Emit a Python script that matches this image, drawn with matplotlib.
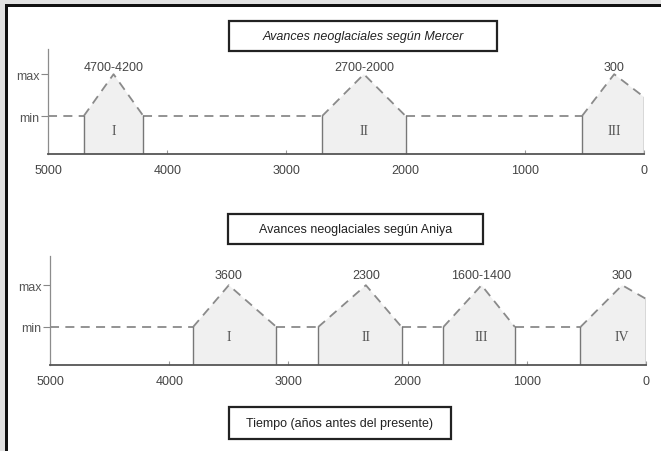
import matplotlib
matplotlib.use("Agg")
import matplotlib.pyplot as plt
from matplotlib import font_manager
from matplotlib.patches import Polygon, Rectangle

# data
years_ticks = [5000, 4000, 3000, 2000, 1000, 0]
level_min = 1.0
level_max = 2.1

mercer_start = [4700, 2700, 520]
mercer_end = [4200, 2000, 0]
mercer_peak = [4450, 2350, 250]
mercer_end_level = [1.0, 1.0, 1.5]
mercer_labels = ["4700-4200", "2700-2000", "300"]
mercer_roman = ["I", "II", "III"]

aniya_start = [3800, 2750, 1700, 550]
aniya_end = [3100, 2050, 1100, 0]
aniya_peak = [3500, 2350, 1380, 200]
aniya_end_level = [1.0, 1.0, 1.0, 1.74]
aniya_labels = ["3600", "2300", "1600-1400", "300"]
aniya_roman = ["I", "II", "III", "IV"]

names = {f.name for f in font_manager.fontManager.ttflist}
NARROW = "Liberation Sans Narrow" if "Liberation Sans Narrow" in names else "Liberation Sans"
SERIF = "Liberation Serif"

plt.rcParams["hatch.color"] = "#b8b8b8"
plt.rcParams["hatch.linewidth"] = 0.9

W, H = 661, 452
fig = plt.figure(figsize=(W / 100, H / 100), dpi=100)
fig.patch.set_facecolor("white")


def fx(px):
    return px / W


def fy(py):
    return 1 - py / H


# frame: grey band + black line on top and left
fig.patches.append(Rectangle((0, fy(5)), 1, 5 / H, transform=fig.transFigure,
                             facecolor="#e2e2e2", edgecolor="none"))
fig.patches.append(Rectangle((0, 0), 5 / W, 1, transform=fig.transFigure,
                             facecolor="#e2e2e2", edgecolor="none"))
fig.patches.append(Rectangle((5 / W, fy(8)), 1, 3 / H, transform=fig.transFigure,
                             facecolor="#111111", edgecolor="none"))
fig.patches.append(Rectangle((5 / W, 0), 3 / W, fy(5), transform=fig.transFigure,
                             facecolor="#111111", edgecolor="none"))


def title_box(x0, y0, x1, y1, text, italic=False, size=9):
    fig.patches.append(Rectangle((fx(x0), fy(y1)), fx(x1 - x0), (y1 - y0) / H,
                                 transform=fig.transFigure, facecolor="white",
                                 edgecolor="#222222", linewidth=1.6))
    fig.text(fx((x0 + x1) / 2), fy((y0 + y1) / 2), text, ha="center", va="center",
             fontsize=size, family=NARROW, color="#222222",
             style="italic" if italic else "normal")


def panel(rect, starts, ends, peaks, end_levels, labels, romans, ytop, roman_y, lab_off):
    ax = fig.add_axes(rect)
    ax.set_xlim(5000, 0)
    ax.set_ylim(0, ytop)
    for s in ["top", "right"]:
        ax.spines[s].set_visible(False)
    ax.spines["left"].set_color("#8c8c8c")
    ax.spines["left"].set_linewidth(0.9)
    ax.spines["bottom"].set_color("#555555")
    ax.spines["bottom"].set_linewidth(1.3)
    ax.set_xticks(years_ticks)
    ax.set_xticklabels([str(t) for t in years_ticks], family=NARROW, fontsize=9,
                       color="#444444")
    ax.tick_params(axis="x", direction="in", length=3, color="#999999", pad=7)
    ax.set_yticks([level_min, level_max])
    ax.set_yticklabels(["min", "max"], family=NARROW, fontsize=9, color="#555555")
    ax.tick_params(axis="y", direction="out", length=5, color="#888888", pad=1)
    ax.patch.set_alpha(0)

    dash = dict(color="#8a8a8a", linewidth=1.3, linestyle=(0, (5, 3.5)))
    # min level dashed segments between events
    prev = 5000
    for s, e in zip(starts, ends):
        if prev > s:
            ax.plot([prev, s], [level_min, level_min], **dash)
        prev = e

    for s, e, p, el, lab, rom in zip(starts, ends, peaks, end_levels, labels, romans):
        poly = Polygon([(s, 0), (s, level_min), (p, level_max), (e, el), (e, 0)],
                       closed=True, facecolor="#f0f0f0", edgecolor="none",
                       hatch="....", zorder=1)
        ax.add_patch(poly)
        ax.plot([s, s], [0, level_min], color="#777777", linewidth=1.0, zorder=2)
        ax.plot([e, e], [0, el], color="#777777", linewidth=1.0, zorder=2)
        ax.plot([s, p, e], [level_min, level_max, el], zorder=2, **dash)
        ax.annotate(lab, (p, level_max), xytext=(0, lab_off), textcoords="offset points",
                    ha="center", va="bottom", family=NARROW, fontsize=9,
                    color="#444444")
        ax.text(p, roman_y, rom, ha="center", va="center", family=SERIF,
                fontsize=10, color="#555555")
    return ax


# top panel (Mercer)
panel([fx(48), fy(155), fx(644) - fx(48), 105 / H], mercer_start, mercer_end,
      mercer_peak, mercer_end_level, mercer_labels, mercer_roman,
      105 / 38, 0.62, 1)
# bottom panel (Aniya)
panel([fx(50), fy(366), fx(646) - fx(50), 109 / H], aniya_start, aniya_end,
      aniya_peak, aniya_end_level, aniya_labels, aniya_roman,
      109 / 38, 0.75, 3)

title_box(229, 22, 497, 52, "Avances neoglaciales según Mercer", italic=True)
title_box(228, 215, 483, 245, "Avances neoglaciales según Aniya")
title_box(229, 408, 451, 440, "Tiempo (años antes del presente)")

fig.savefig("out.png", dpi=100)
